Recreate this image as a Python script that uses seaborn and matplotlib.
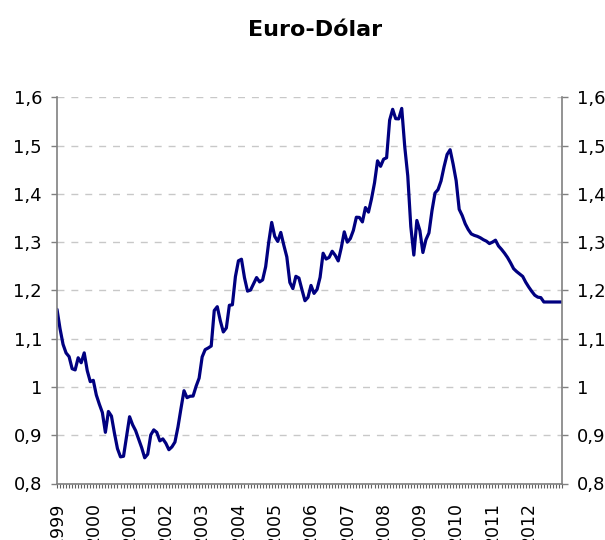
import numpy as np
import pandas as pd
import matplotlib
matplotlib.use("Agg")
import matplotlib.pyplot as plt
from matplotlib.ticker import FixedLocator, FuncFormatter
import seaborn as sns

# Monthly EUR/USD values, Jan 1999 - Dec 2012
y1999 = [1.1608, 1.1208, 1.0883, 1.0704, 1.0628, 1.0378, 1.0353, 1.0604, 1.0501, 1.0706, 1.0338, 1.0110]
y2000 = [1.0137, 0.9834, 0.9643, 0.9470, 0.9060, 0.9492, 0.9397, 0.9041, 0.8721, 0.8552, 0.8564, 0.8973]
y2001 = [0.9383, 0.9217, 0.9095, 0.8920, 0.8742, 0.8532, 0.8607, 0.9005, 0.9111, 0.9059, 0.8883, 0.8924]
y2002 = [0.8833, 0.8700, 0.8758, 0.8858, 0.9170, 0.9554, 0.9922, 0.9778, 0.9808, 0.9811, 1.0014, 1.0183]
y2003 = [1.0622, 1.0773, 1.0807, 1.0848, 1.1582, 1.1663, 1.1372, 1.1139, 1.1222, 1.1692, 1.1702, 1.2286]
y2004 = [1.2613, 1.2646, 1.2262, 1.1985, 1.2007, 1.2138, 1.2266, 1.2176, 1.2218, 1.2490, 1.2991, 1.3408]
y2005 = [1.3119, 1.3014, 1.3201, 1.2938, 1.2694, 1.2165, 1.2037, 1.2292, 1.2256, 1.2015, 1.1786, 1.1856]
y2006 = [1.2103, 1.1938, 1.2020, 1.2271, 1.2770, 1.2650, 1.2684, 1.2811, 1.2727, 1.2611, 1.2881, 1.3213]
y2007 = [1.2999, 1.3074, 1.3242, 1.3516, 1.3511, 1.3419, 1.3716, 1.3622, 1.3896, 1.4227, 1.4684, 1.4570]
y2008 = [1.4718, 1.4748, 1.5527, 1.5751, 1.5557, 1.5553, 1.5770, 1.4975, 1.4370, 1.3322, 1.2732, 1.3449]
y2009 = [1.3239, 1.2785, 1.3050, 1.3190, 1.3650, 1.4016, 1.4088, 1.4268, 1.4562, 1.4816, 1.4914, 1.4614]
y2010 = [1.4272, 1.368, 1.355, 1.338, 1.326, 1.317, 1.314, 1.312, 1.309, 1.305, 1.302, 1.297]
y2011 = [1.300, 1.304, 1.292, 1.285, 1.277, 1.268, 1.257, 1.245, 1.239, 1.234, 1.229, 1.217]
y2012 = [1.207, 1.198, 1.190, 1.186, 1.185, 1.176, 1.176, 1.176, 1.176, 1.176, 1.176, 1.176]

years = list(range(1999, 2013))
year_labels = [str(y) for y in years]
y_ticks = [0.8, 0.9, 1.0, 1.1, 1.2, 1.3, 1.4, 1.5, 1.6]

values = (y1999 + y2000 + y2001 + y2002 + y2003 + y2004 + y2005 + y2006 +
          y2007 + y2008 + y2009 + y2010 + y2011 + y2012)
df = pd.DataFrame({"mes": np.arange(len(values)), "valor": values})

sns.set_theme(style="white")
plt.rcParams["font.family"] = ["DejaVu Sans"]

fig = plt.figure(figsize=(6.05, 5.40), dpi=100)
ax = fig.add_axes([57 / 605, 1 - 483.5 / 540, (562 - 57) / 605, (483.5 - 97.3) / 540])

sns.lineplot(data=df, x="mes", y="valor", ax=ax, color="#000080", linewidth=2.3)

ax.set_xlim(0, len(values) - 1)
ax.set_ylim(0.8, 1.6)
ax.set_xlabel("")
ax.set_ylabel("")

# y axis
ax.yaxis.set_major_locator(FixedLocator(y_ticks))
ax.yaxis.set_major_formatter(FuncFormatter(lambda v, p: f"{round(v, 1):g}".replace(".", ",")))
ax.yaxis.grid(True, color="#c8c8c8", linestyle=(0, (5, 5)), linewidth=1.0)
ax.xaxis.grid(False)

# x axis
ax.xaxis.set_major_locator(FixedLocator([12 * i for i in range(len(years))]))
ax.set_xticklabels(year_labels)
ax.xaxis.set_minor_locator(FixedLocator(list(range(len(values)))))

for side in ["left", "right", "bottom"]:
    ax.spines[side].set_visible(True)
    ax.spines[side].set_color("#808080")
    ax.spines[side].set_linewidth(1.2)
ax.spines["top"].set_visible(False)

ax.tick_params(axis="y", which="major", left=True, right=True, labelleft=True,
               labelright=True, direction="out", length=4.3, width=1.0,
               color="#808080", labelsize=13, labelcolor="black", pad=6.5)
ax.tick_params(axis="x", which="both", bottom=True, direction="out", length=3,
               width=0.8, color="#606060")
ax.tick_params(axis="x", which="major", labelsize=12.5, labelcolor="black",
               labelrotation=90, pad=10.5)

fig.text(315.5 / 605, 1 - 36 / 540, "Euro-Dólar", ha="center", va="baseline",
         fontsize=16, fontweight="bold", color="black")

fig.savefig("out.png", dpi=100)
